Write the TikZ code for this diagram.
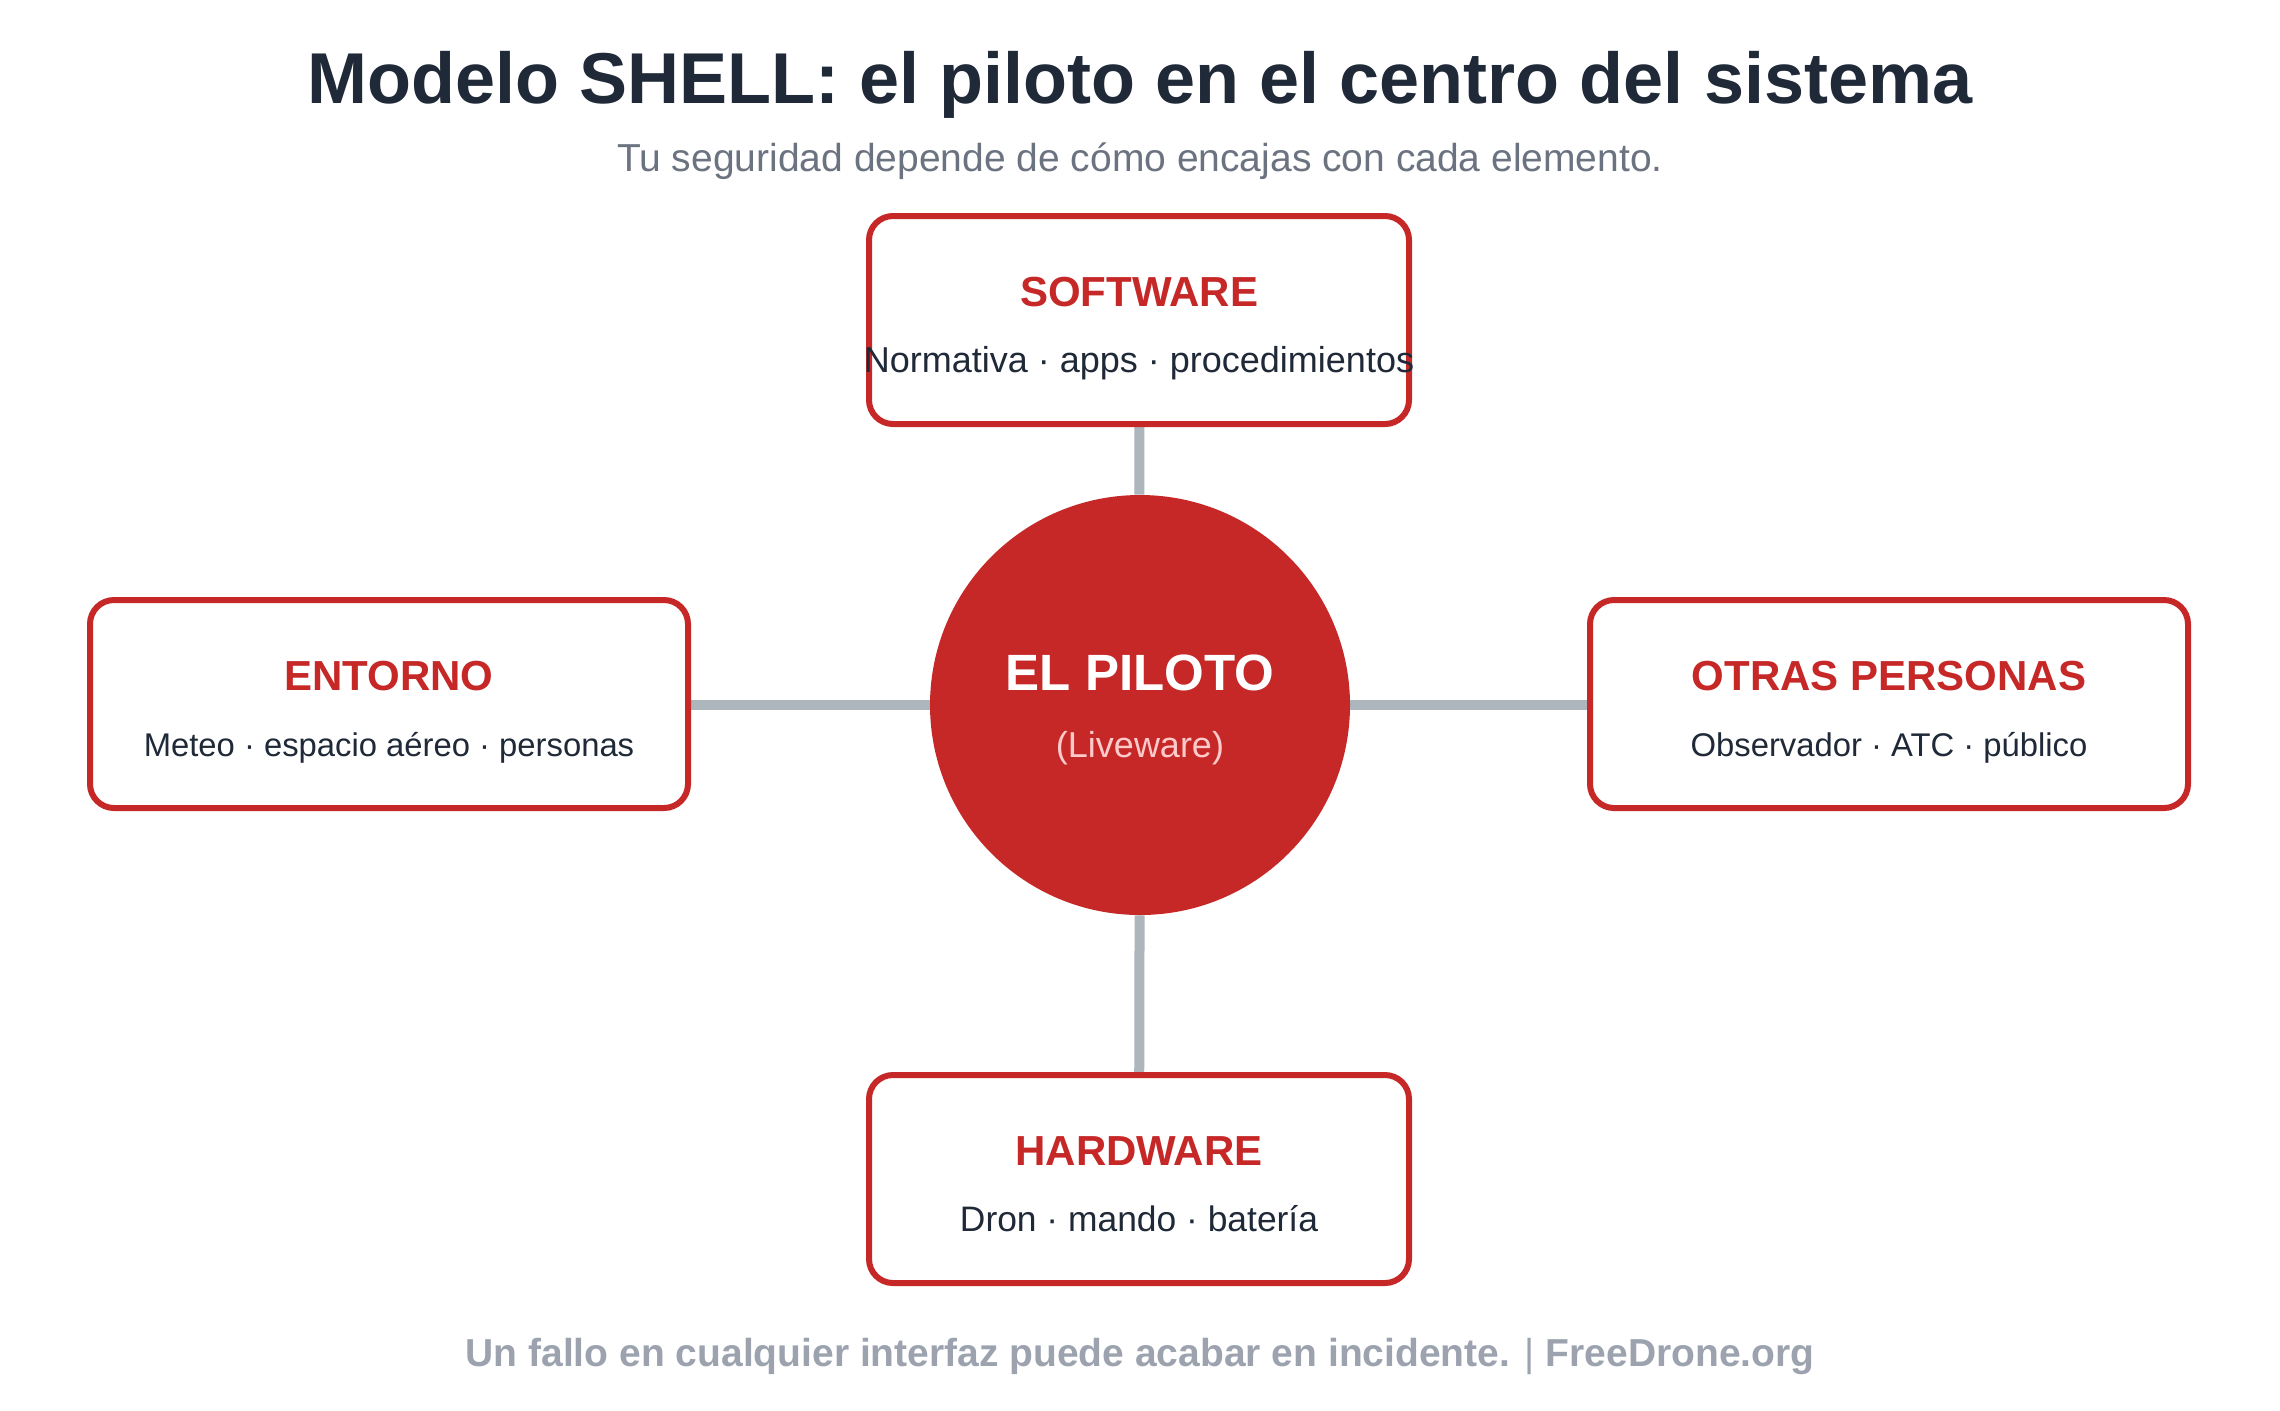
\documentclass[tikz,border=0pt]{standalone}
\usepackage{fontspec}
\setmainfont{Liberation Sans}
\usetikzlibrary{positioning,backgrounds}

\definecolor{shellred}{HTML}{C62828}
\definecolor{inkdark}{HTML}{1F2937}
\definecolor{inkgray}{HTML}{6B7280}
\definecolor{footgray}{HTML}{9CA3AF}
\definecolor{linkgray}{HTML}{ADB5BD}
\definecolor{softpink}{HTML}{FECACA}

\begin{document}
\begin{tikzpicture}[x=0.5pt, y=-0.5pt,
    % Element boxes around the pilot
    element/.style={rectangle, draw=shellred, fill=white, line width=3pt, rounded corners=12pt, minimum width=270pt, minimum height=104pt},
    sideelement/.style={element, minimum width=299pt},
    pilot/.style={circle, fill=shellred, minimum size=210pt, inner sep=0pt},
    % Texts
    elemtitle/.style={anchor=base, text=shellred, font=\fontsize{21}{25}\selectfont\bfseries},
    elemtext/.style={anchor=base, text=inkdark, font=\fontsize{18}{22}\selectfont},
    sidetext/.style={elemtext, font=\fontsize{16.4}{20}\selectfont},
    link/.style={draw=linkgray, line width=5pt}
]

\useasboundingbox (0,0) rectangle (2280,1410);

% Title
\node[anchor=base, text=inkdark, font=\fontsize{36}{42}\selectfont\bfseries] (title) at (1140,103) {Modelo SHELL: el piloto en el centro del sistema};
\node[anchor=base, text=inkgray, font=\fontsize{19.5}{23}\selectfont] (subtitle) at (1140,171) {Tu seguridad depende de cómo encajas con cada elemento.};

% Center: the pilot
\node[pilot] (piloto) at (1140,705) {};
\node[anchor=base, text=white, font=\fontsize{25.5}{30}\selectfont\bfseries] (piloto_t) at ([yshift=7.5pt]piloto.center) {EL PILOTO};
\node[anchor=base, text=softpink, font=\fontsize{18}{22}\selectfont] (piloto_s) at ([yshift=-26pt]piloto.center) {(Liveware)};

% Elements
\node[element] (software) at (1139,320) {};
\node[elemtitle] (software_t) at ([yshift=7pt]software.center) {SOFTWARE};
\node[elemtext] (software_s) at ([yshift=-26pt]software.center) {Normativa · apps · procedimientos};

\node[element] (hardware) at (1139,1179) {};
\node[elemtitle] (hardware_t) at ([yshift=7pt]hardware.center) {HARDWARE};
\node[elemtext, font=\fontsize{17.7}{22}\selectfont] (hardware_s) at ([yshift=-26pt]hardware.center) {Dron · mando · batería};

\node[sideelement] (entorno) at (389,704) {};
\node[elemtitle] (entorno_t) at ([yshift=7pt]entorno.center) {ENTORNO};
\node[sidetext] (entorno_s) at ([yshift=-26pt]entorno.center) {Meteo · espacio aéreo · personas};

\node[sideelement] (personas) at (1889,704) {};
\node[elemtitle] (personas_t) at ([yshift=7pt]personas.center) {OTRAS PERSONAS};
\node[sidetext] (personas_s) at ([yshift=-26pt]personas.center) {Observador · ATC · público};

% Interfaces
\begin{scope}[on background layer]
\fill[white] (0,0) rectangle (2280,1410);
\draw[link] (software) -- (piloto);
\draw[link] (hardware) -- (piloto);
\draw[link] (entorno.east |- piloto.center) -- (piloto);
\draw[link] (personas.west |- piloto.center) -- (piloto);
\end{scope}

% Footer
\node[anchor=base, text=footgray, font=\fontsize{19.5}{23}\selectfont\bfseries] (footer) at (1140,1366) {Un fallo en cualquier interfaz puede acabar en incidente. {\mdseries |} FreeDrone.org};

\end{tikzpicture}
\end{document}
